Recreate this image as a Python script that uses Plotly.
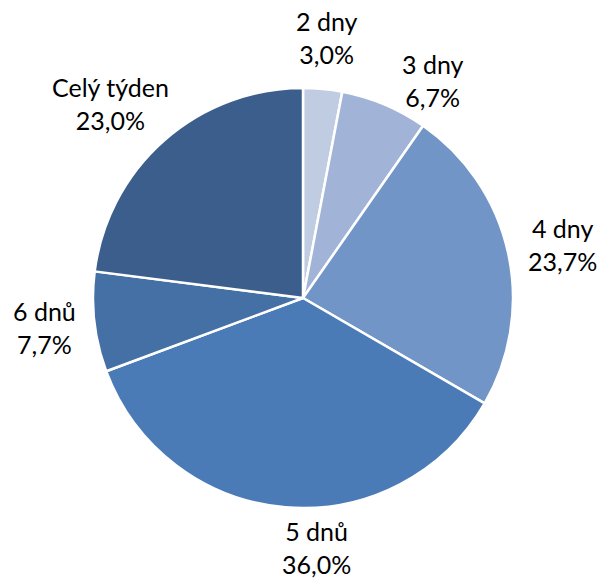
import math
import plotly.graph_objects as go

# Share of respondents by number of days
labels = ["2 dny", "3 dny", "4 dny", "5 dnů", "6 dnů", "Celý týden"]
values = [3.0, 6.7, 23.7, 36.0, 7.7, 23.0]
colors = ["#c0cce2", "#a1b4d7", "#7295c7", "#4a7bb7", "#4470a5", "#3b5e8c"]

W, H = 600, 578
L, R_M, T, B = 93, 87, 88, 70
radius = (W - L - R_M) / 2
cx0 = L + radius
cy0 = T + radius

fig = go.Figure(
    go.Pie(
        labels=labels,
        values=values,
        sort=False,
        direction="clockwise",
        rotation=0,
        marker=dict(colors=colors, line=dict(color="white", width=2.5)),
        textinfo="none",
        showlegend=False,
        hoverinfo="skip",
    )
)

# Outside labels: placed beyond the rim along each slice's mid-angle,
# with a couple of manual nudges to keep them clear of neighbours.
label_gap = 19
char_w, box_h = 12.5, 60
label_nudge = {"2 dny": (0, -3), "3 dny": (29, 21), "5 dnů": (36, -9), "4 dny": (5, 3)}

total = sum(values)
cum = 0.0
annotations = []
for lab, val in zip(labels, values):
    theta = 2 * math.pi * (cum + val / 2) / total
    cum += val
    text = f"{lab}<br>{val:.1f}%".replace(".", ",")
    w = char_w * max(len(lab), len(f"{val:.1f}%"))
    r = radius + label_gap
    ax = cx0 + r * math.sin(theta)
    ay = cy0 - r * math.cos(theta)
    px = ax + math.sin(theta) * w / 2
    py = ay - math.cos(theta) * box_h / 2
    dx, dy = label_nudge.get(lab, (0, 0))
    px += dx
    py += dy
    annotations.append(
        dict(
            x=(px - L) / (2 * radius),
            y=1 - (py - T) / (2 * radius),
            xref="paper",
            yref="paper",
            text=text,
            showarrow=False,
            xanchor="center",
            yanchor="middle",
            align="center",
            font=dict(family="Lato", size=25, color="black"),
        )
    )

fig.update_layout(
    width=W,
    height=H,
    separators=", ",
    margin=dict(l=L, r=R_M, t=T, b=B),
    paper_bgcolor="white",
    plot_bgcolor="white",
    annotations=annotations,
)

fig.write_html("out.html")
